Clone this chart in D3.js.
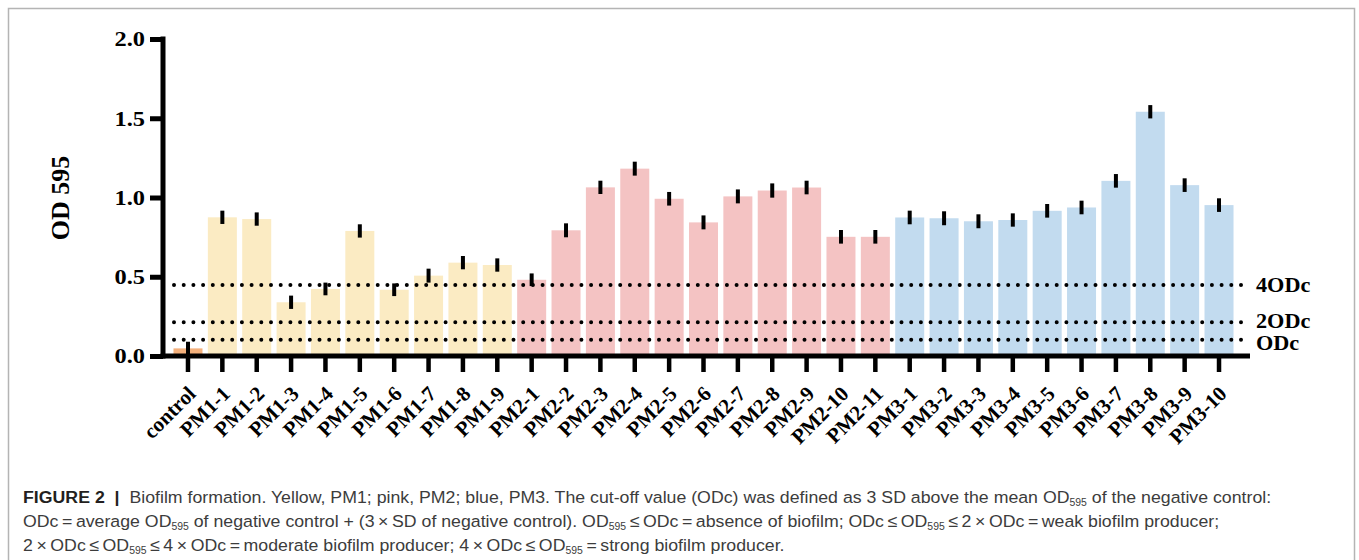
<!DOCTYPE html>
<html>
<head>
<meta charset="utf-8">
<script src="https://cdn.jsdelivr.net/npm/d3@7"></script>
<style>
  html, body { margin: 0; padding: 0; background: #fff; }
  svg { display: block; }
</style>
</head>
<body>
<svg id="chart" width="1359" height="560"></svg>
<script>
// ---------- DATA ----------
const categories = ["control",
  "PM1-1","PM1-2","PM1-3","PM1-4","PM1-5","PM1-6","PM1-7","PM1-8","PM1-9",
  "PM2-1","PM2-2","PM2-3","PM2-4","PM2-5","PM2-6","PM2-7","PM2-8","PM2-9","PM2-10","PM2-11",
  "PM3-1","PM3-2","PM3-3","PM3-4","PM3-5","PM3-6","PM3-7","PM3-8","PM3-9","PM3-10"];
const values = [0.048,
  0.875, 0.864, 0.339, 0.423, 0.789, 0.418, 0.507, 0.589, 0.574,
  0.481, 0.793, 1.064, 1.182, 0.992, 0.843, 1.007, 1.044, 1.063, 0.752, 0.752,
  0.874, 0.869, 0.850, 0.858, 0.916, 0.937, 1.105, 1.541, 1.078, 0.952];
const errors = [0.042,
  0.042, 0.042, 0.042, 0.040, 0.042, 0.040, 0.044, 0.042, 0.042,
  0.040, 0.044, 0.042, 0.044, 0.043, 0.044, 0.044, 0.045, 0.043, 0.043, 0.043,
  0.043, 0.044, 0.044, 0.042, 0.043, 0.043, 0.043, 0.042, 0.043, 0.043];
const groupNames = ["control", "PM1", "PM2", "PM3"];
const groupColors = ["#f3b07c", "#fbebc3", "#f4c3c3", "#c2dbef"];
const yTicks = [0, 0.5, 1.0, 1.5, 2.0];
const thresholdLabels = ["ODc", "2ODc", "4ODc"];
const thresholdValues = [0.102, 0.213, 0.448];
const thresholdLabelShift = [10, 5.5, 7.5];
const yTitle = "OD 595";

// ---------- LAYOUT ----------
const svg = d3.select("#chart");
const axisX = 163, axisY = 356;

// frame
svg.append("rect").attr("x", 8.5).attr("y", 8.5).attr("width", 1346).attr("height", 600)
  .attr("fill", "none").attr("stroke", "#b4b4b4").attr("stroke-width", 1.5);

const y = d3.scaleLinear().domain([0, 2]).range([axisY, 39]);
const x = d3.scaleBand().domain(categories).range([170.8, 1236.2])
  .paddingInner(0.156).paddingOuter(0.078);
const color = d3.scaleOrdinal().domain(groupNames).range(groupColors);
const groupOf = c => c === "control" ? "control" : c.slice(0, 3);

const serif = "'Liberation Serif', 'Times New Roman', serif";

// bars
svg.append("g").selectAll("rect").data(categories).join("rect")
  .attr("x", d => x(d))
  .attr("width", x.bandwidth())
  .attr("y", (d, i) => y(values[i]))
  .attr("height", (d, i) => axisY - y(values[i]))
  .attr("fill", d => color(groupOf(d)));

// threshold dotted lines
svg.append("g").selectAll("line").data(thresholdValues).join("line")
  .attr("x1", 174).attr("x2", 1244)
  .attr("y1", d => y(d)).attr("y2", d => y(d))
  .attr("stroke", "#000").attr("stroke-width", 4)
  .attr("stroke-linecap", "round").attr("stroke-dasharray", "0,9.7");

svg.append("g").selectAll("text").data(thresholdLabels).join("text")
  .attr("x", 1256)
  .attr("y", (d, i) => y(thresholdValues[i]) + thresholdLabelShift[i])
  .attr("font-family", serif).attr("font-weight", "bold").attr("font-size", 21)
  .attr("transform", "translate(1256,0) scale(1.06,1) translate(-1256,0)")
  .text(d => d);

// error bars
svg.append("g").selectAll("line").data(categories).join("line")
  .attr("x1", d => x(d) + x.bandwidth() / 2)
  .attr("x2", d => x(d) + x.bandwidth() / 2)
  .attr("y1", (d, i) => y(values[i] + errors[i]))
  .attr("y2", (d, i) => Math.min(axisY, y(values[i] - errors[i])))
  .attr("stroke", "#000").attr("stroke-width", 4);

// Y axis
const yAxis = d3.axisLeft(y).tickValues(yTicks).tickSize(13).tickSizeOuter(0)
  .tickFormat(d3.format(".1f"));
const gy = svg.append("g").attr("transform", `translate(${axisX},0)`).call(yAxis);
gy.select(".domain").attr("stroke", "#000").attr("stroke-width", 5)
  .attr("d", `M0,${y(2) - 2.5}V${axisY + 2.5}`);
gy.selectAll(".tick line").attr("stroke", "#000").attr("stroke-width", 5);
gy.selectAll(".tick text")
  .attr("font-family", serif).attr("font-weight", "bold").attr("font-size", 20)
  .attr("fill", "#000").attr("x", 0).attr("dy", "0.34em")
  .attr("text-anchor", "end")
  .attr("transform", "translate(-18,0) scale(1.22,1)");

// X axis
const xAxis = d3.axisBottom(x).tickSize(16).tickSizeOuter(0).tickFormat(d => d);
const gx = svg.append("g").attr("transform", `translate(0,${axisY})`).call(xAxis);
gx.select(".domain").attr("stroke", "#000").attr("stroke-width", 5)
  .attr("d", `M${axisX - 2.5},0H1250`);
gx.selectAll(".tick line").attr("stroke", "#000").attr("stroke-width", 4.5);
gx.selectAll(".tick text")
  .attr("font-family", serif).attr("font-weight", "bold").attr("font-size", 21)
  .attr("fill", "#000").attr("y", 0).attr("dy", 0)
  .attr("text-anchor", "end")
  .attr("transform", "translate(9,39) rotate(-45)");

// Y title
svg.append("text")
  .attr("transform", "translate(69,198) rotate(-90)")
  .attr("text-anchor", "middle")
  .attr("font-family", serif).attr("font-weight", "bold").attr("font-size", 26)
  .text(yTitle);

// ---------- CAPTION ----------
const S = "\u2009";
const captionLines = [
  { y: 503, segs: [
    { t: "FIGURE 2", b: true }, { t: "  |  ", b: true },
    { t: "Biofilm formation. Yellow, PM1; pink, PM2; blue, PM3. The cut-off value (ODc) was defined as 3 SD above the mean OD" },
    { t: "595", sub: true }, { t: " of the negative control:" } ] },
  { y: 527, segs: [
    { t: `ODc${S}=${S}average OD` }, { t: "595", sub: true },
    { t: ` of negative control + (3${S}\u00d7${S}SD of negative control). OD` }, { t: "595", sub: true },
    { t: `${S}\u2264${S}ODc${S}=${S}absence of biofilm; ODc${S}\u2264${S}OD` }, { t: "595", sub: true },
    { t: `${S}\u2264${S}2${S}\u00d7${S}ODc${S}=${S}weak biofilm producer;` } ] },
  { y: 551, segs: [
    { t: `2${S}\u00d7${S}ODc${S}\u2264${S}OD` }, { t: "595", sub: true },
    { t: `${S}\u2264${S}4${S}\u00d7${S}ODc${S}=${S}moderate biofilm producer; 4${S}\u00d7${S}ODc${S}\u2264${S}OD` },
    { t: "595", sub: true }, { t: `${S}=${S}strong biofilm producer.` } ] }
];
const captionX0 = 23, captionX1 = 1272;

const captionTexts = captionLines.map(line => {
  const t = svg.append("text")
    .attr("x", 0).attr("y", 0)
    .attr("font-family", "'Liberation Sans Narrow', 'Arial Narrow', 'Liberation Sans', Arial, sans-serif")
    .attr("font-size", 17).attr("fill", "#3c3c3c")
    .style("white-space", "pre");
  let prevSub = false;
  line.segs.forEach(s => {
    const ts = t.append("tspan").text(s.t);
    if (s.b) ts.attr("font-weight", "bold").attr("fill", "#231f20");
    if (s.sub) { ts.attr("font-size", 10).attr("dy", 3); prevSub = true; }
    else if (prevSub) { ts.attr("dy", -3); prevSub = false; }
  });
  return { t, line };
});
const w1 = captionTexts[0].t.node().getComputedTextLength();
const sx = (captionX1 - captionX0) / w1;
captionTexts.forEach(({ t, line }) => {
  t.attr("transform", `translate(${captionX0},${line.y}) scale(${sx},1)`);
});
</script>
</body>
</html>
